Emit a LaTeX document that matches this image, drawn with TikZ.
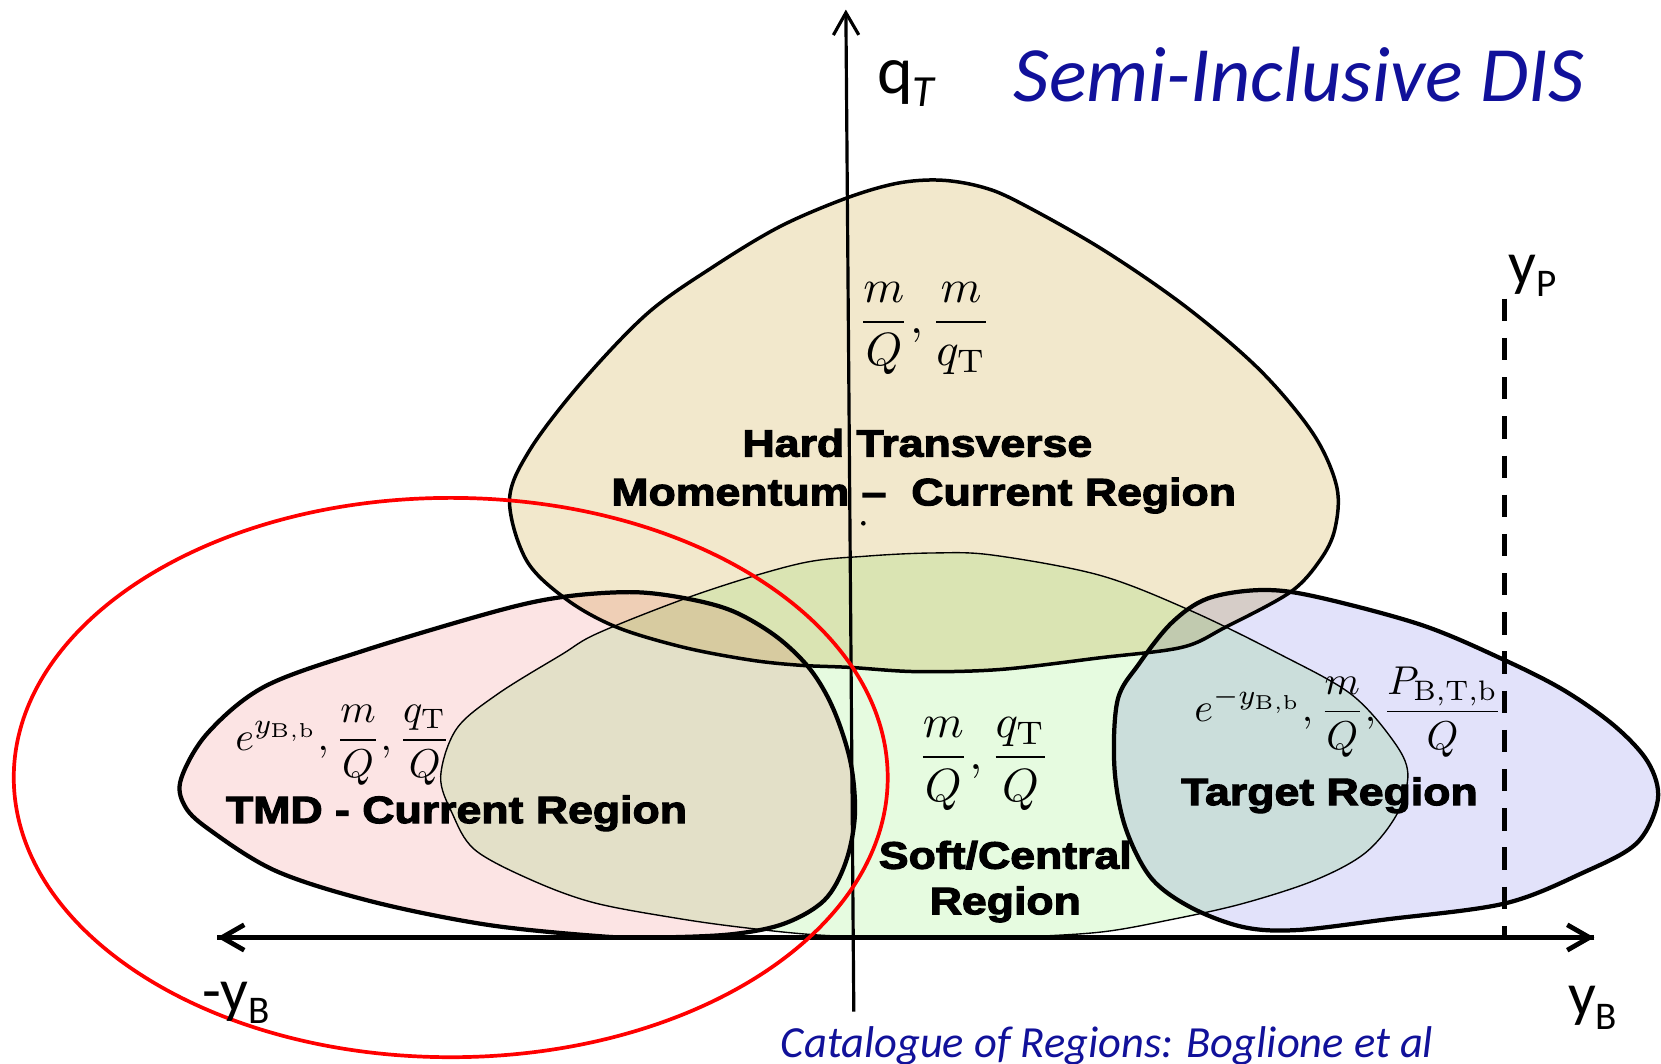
\documentclass[tikz,border=0pt]{standalone}
\usepackage{graphicx}
\usepackage{fontspec}
\usetikzlibrary{arrows.meta}
\newfontfamily\calib{Carlito}
\newfontfamily\heavy{Liberation Sans}[FakeStretch=1.17,FakeBold=3]
\definecolor{hardfill}{HTML}{F2E8CC}
\definecolor{tmdfill}{HTML}{FCE4E4}
\definecolor{softfill}{HTML}{E6FBE0}
\definecolor{targetfill}{HTML}{E2E2FA}
\definecolor{navy}{HTML}{11119A}
\definecolor{ellred}{HTML}{FF0000}
\tikzset{
  thickblob/.style={draw=black,line width=4pt,line join=round},
  thinblob/.style={draw=black,line width=1.3pt},
  boldlabel/.style={inner sep=0pt,anchor=base,font=\heavy\bfseries\fontsize{36}{43}\selectfont},
  mathlabel/.style={inner sep=0pt,anchor=base},
  axislabel/.style={inner sep=0pt,anchor=base west,font=\calib\fontsize{58}{60}\selectfont},
  axisline/.style={draw=black,line width=#1,-{Straight Barb[length=21pt,width=24pt]}},
}
\begin{document}
\begin{tikzpicture}[x=1pt,y=-1pt]
\useasboundingbox (0,0) rectangle (1568,1004);
\clip (0,0) rectangle (1568,1004);

\begin{scope}[blend group=multiply]
% Hard transverse momentum region
\path[fill=hardfill,draw=black,line width=3.3pt] plot[smooth cycle,tension=0.55] coordinates {
 (481,472) (500,425) (548,362) (611,296) (673,252) (736,214) (799,187) (847,173) (887,170)
 (925,176) (960,190) (1040,235) (1120,290) (1190,350) (1240,410) (1262,460) (1260,500)
 (1246,529) (1218,559) (1157,592) (1116,611) (1038,621) (944,632) (865,634) (802,630)
 (755,628) (708,623) (645,611) (582,592) (535,566) (497,529)};
% Soft / central region
\path[fill=softfill,thinblob] plot[smooth cycle,tension=0.55] coordinates {
 (416,733) (431,688) (470,655) (530,618) (566,597) (661,560) (755,532) (818,525) (881,522)
 (937,524) (1038,543) (1123,576) (1207,617) (1275,655) (1315,699) (1329,730) (1319,768)
 (1289,805) (1241,831) (1173,853) (1106,868) (1038,880) (950,885) (880,886) (778,883)
 (705,876) (640,867) (560,852) (500,830) (448,802) (427,768)};
% TMD current region
\path[fill=tmdfill,thickblob] plot[smooth cycle,tension=0.55] coordinates {
 (171,735) (196,692) (250,648) (344,614) (472,576) (535,563) (598,559) (648,565) (692,577)
 (733,601) (765,632) (787,670) (803,720) (807,770) (798,815) (778,850) (740,872) (690,882)
 (620,885) (569,884) (460,873) (351,851) (260,822) (196,782) (174,760)};
% Target region
\path[fill=targetfill,thickblob] plot[smooth cycle,tension=0.55] coordinates {
 (1055,661) (1075,627) (1106,588) (1140,565) (1190,557) (1241,563) (1342,590) (1420,623)
 (1477,652) (1525,686) (1556,720) (1565,755) (1545,796) (1494,824) (1420,853) (1308,868)
 (1224,878) (1173,875) (1123,856) (1086,828) (1062,780) (1052,724)};
\end{scope}

% small dot
\fill (815,494) circle (2.2pt);

% axes
\coordinate (xl) at (205,885);
\coordinate (xr) at (1505,885);
\coordinate (vb) at (806,955);
\coordinate (vt) at (798.5,9);
\coordinate (pt) at (1420,282);
\coordinate (pb) at (1420,885);
\draw[axisline=4.5pt] (xr) -- (xl);
\draw[axisline=4.5pt] (xl) -- (xr);
\draw[axisline=3pt] (vb) -- (vt);
\draw[line width=4.5pt,dash pattern=on 21pt off 16pt] (pt) -- (pb);

% red ellipse
\draw[ellred,line width=3.5pt] (425.5,734) ellipse[x radius=412.5, y radius=264];

% texts
\node[mathlabel] (hardmath) at (873,315)
  {\scalebox{4.4}{$\displaystyle \frac{m}{Q},\frac{m}{q_{\mathrm{T}}}$}};
\node[boldlabel] (hard1) at (866,431) {Hard Transverse};
\node[boldlabel] (hard2) at (872,477) {Momentum –\ \ Current Region};

\node[mathlabel] (tmdmath) at (324,708)
  {\scalebox{3.8}{$\displaystyle e^{y_{\mathrm{B,b}}},\frac{m}{Q},\frac{q_{\mathrm{T}}}{Q}$}};
\node[boldlabel] (tmd) at (431,777) {TMD - Current Region};

\node[mathlabel] (softmath) at (929,726)
  {\scalebox{4.4}{$\displaystyle \frac{m}{Q},\frac{q_{\mathrm{T}}}{Q}$}};
\node[boldlabel] (soft1) at (949,820) {Soft/Central};
\node[boldlabel] (soft2) at (949,863) {Region};

\node[mathlabel] (tgtmath) at (1273,681)
  {\scalebox{3.8}{$\displaystyle e^{-y_{\mathrm{B,b}}},\frac{m}{Q},\frac{P_{\mathrm{B,T,b}}}{Q}$}};
\node[boldlabel] (tgt) at (1255,760) {Target Region};

\node[inner sep=0pt,anchor=base west,font=\calib\fontsize{64}{64}\selectfont] (qT) at (828,88)
  {q\raisebox{-13pt}{\fontsize{42}{42}\selectfont\itshape T}};
\node[inner sep=0pt,anchor=base west,text=navy,font=\calib\itshape\fontsize{74}{74}\selectfont] (title) at (957,96)
  {Semi-Inclusive DIS};
\node[axislabel] (yP) at (1424,269) {y\raisebox{-11pt}{\fontsize{37}{37}\selectfont P}};
\node[axislabel] (myB) at (191,955) {-y\raisebox{-11pt}{\fontsize{37}{37}\selectfont B}};
\node[axislabel] (yB) at (1480,959) {y\raisebox{-13pt}{\fontsize{37}{37}\selectfont B}};
\node[inner sep=0pt,anchor=base west,text=navy,font=\calib\itshape\fontsize{42}{42}\selectfont] (cat) at (737,998)
  {Catalogue of Regions: Boglione et al};
\end{tikzpicture}
\end{document}
